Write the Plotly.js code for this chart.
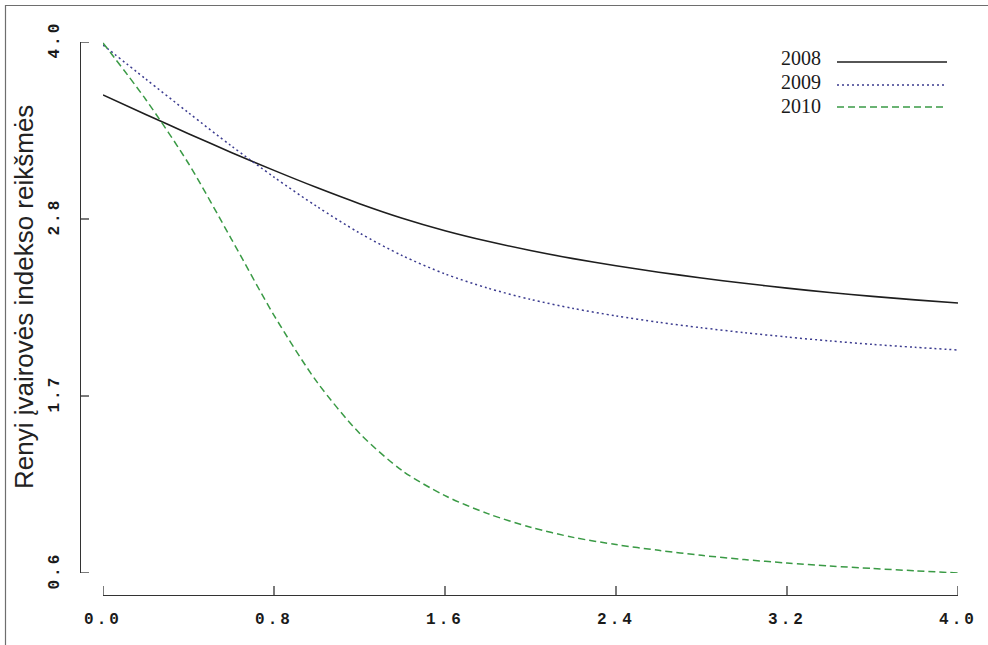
<!DOCTYPE html>
<html>
<head>
<meta charset="utf-8">
<script src="https://cdn.plot.ly/plotly-3.0.1.min.js"></script>
<style>
  html, body { margin: 0; padding: 0; background: #ffffff; }
  #chart { width: 988px; height: 645px; }
  .xtick text, .ytick text { letter-spacing: 3px; }
</style>
</head>
<body>
<div id="chart"></div>
<script>
// ---- data ----
const xValues = [0.0, 0.2, 0.4, 0.6, 0.8, 1.0, 1.2, 1.4, 1.6, 1.8, 2.0,
                 2.2, 2.4, 2.6, 2.8, 3.0, 3.2, 3.4, 3.6, 3.8, 4.0];

const series2008 = [3.661, 3.536, 3.413, 3.293, 3.178, 3.068, 2.965, 2.872, 2.792, 2.724, 2.665,
                    2.613, 2.567, 2.526, 2.489, 2.455, 2.424, 2.396, 2.371, 2.349, 2.329];

const series2009 = [3.981, 3.763, 3.547, 3.335, 3.135, 2.947, 2.777, 2.632, 2.515, 2.424, 2.352,
                    2.294, 2.246, 2.205, 2.170, 2.139, 2.111, 2.086, 2.064, 2.045, 2.028];

const series2010 = [3.994, 3.632, 3.222, 2.740, 2.250, 1.825, 1.495, 1.255, 1.095, 0.980, 0.893,
                    0.828, 0.782, 0.745, 0.713, 0.686, 0.664, 0.645, 0.629, 0.614, 0.600];

const seriesNames = ["2008", "2009", "2010"];

const xTickVals = [0.0, 0.8, 1.6, 2.4, 3.2, 4.0];
const xTickText = ["0.0", "0.8", "1.6", "2.4", "3.2", "4.0"];
const yTickVals = [0.6, 1.7333, 2.8667, 4.0];
const yTickText = ["0.6", "1.7", "2.8", "4.0"];

const yTitle = "Renyi įvairovės indekso reikšmės";

// ---- styles ----
const colors = ["#1e1e1e", "#3b3b8f", "#3a9a45"];
const dashes = ["solid", "2px,3px", "7px,4px"];
const widths = [1.6, 1.5, 1.5];
const seriesData = [series2008, series2009, series2010];

const traces = seriesData.map((ys, i) => ({
  type: "scatter",
  mode: "lines",
  x: xValues,
  y: ys,
  name: seriesNames[i],
  line: { color: colors[i], dash: dashes[i], width: widths[i], shape: "spline", smoothing: 0.8 },
  hoverinfo: "skip"
}));

// geometry (pixels -> paper) helpers
const L = 80, R = 30, T = 42, B = 50, W = 988, H = 645;
const pw = W - L - R, ph = H - T - B;
const px = v => (v - L) / pw;
const py = v => (H - B - v) / ph;
const axisColor = "#333333";
const tickLen = 9;

// custom legend: text on the left, line sample on the right
const legendTextY = [58, 82, 106];
const legendLineY = [62, 85, 107];
const annotations = seriesNames.map((n, i) => ({
  xref: "paper", yref: "paper",
  x: px(823), y: py(legendTextY[i]),
  xanchor: "right", yanchor: "middle",
  text: n, showarrow: false,
  font: { family: "Liberation Serif, Times New Roman, serif", size: 20, color: "#1a1a1a" }
}));
annotations.push({
  xref: "paper", yref: "paper",
  x: px(24), y: py(297),
  xanchor: "center", yanchor: "middle",
  text: yTitle, textangle: -90, showarrow: false,
  font: { family: "Liberation Sans, Arial, sans-serif", size: 26, color: "#222222" }
});

const shapes = seriesNames.map((n, i) => ({
  type: "line", xref: "paper", yref: "paper",
  x0: px(837), x1: px(947), y0: py(legendLineY[i]), y1: py(legendLineY[i]),
  line: { color: colors[i], dash: dashes[i], width: widths[i] }
}));
// tick marks pointing inward from the detached axis lines
xTickVals.forEach(v => shapes.push({
  type: "line", xref: "x", yref: "paper",
  x0: v, x1: v, y0: 0, y1: tickLen / ph,
  line: { color: axisColor, width: 1.3 }
}));
yTickVals.forEach(v => shapes.push({
  type: "line", xref: "paper", yref: "y",
  x0: 0, x1: tickLen / pw, y0: v, y1: v,
  line: { color: axisColor, width: 1.3 }
}));
// image frame (left and top gray border)
shapes.push({ type: "line", xref: "paper", yref: "paper",
  x0: px(5.5), x1: px(5.5), y0: py(5), y1: py(645),
  line: { color: "#6e6e6e", width: 1.2 } });
shapes.push({ type: "line", xref: "paper", yref: "paper",
  x0: px(5), x1: px(988), y0: py(5.5), y1: py(5.5),
  line: { color: "#6e6e6e", width: 1.2 } });

const tickFont = { family: "Liberation Mono, DejaVu Sans Mono, monospace", size: 16, color: "#1a1a1a", weight: "bold" };

const layout = {
  width: W, height: H,
  margin: { l: L, r: R, t: T, b: B, pad: 0 },
  paper_bgcolor: "#ffffff",
  plot_bgcolor: "#ffffff",
  showlegend: false,
  xaxis: {
    range: [0, 4],
    domain: [px(103), 1],
    anchor: "free", position: 0,
    tickvals: xTickVals, ticktext: xTickText,
    ticks: "",
    showline: true, linecolor: axisColor, linewidth: 1.3,
    showgrid: false, zeroline: false,
    tickfont: tickFont,
    ticklabelstandoff: 8
  },
  yaxis: {
    range: [0.6, 4.0],
    domain: [py(573), 1],
    anchor: "free", position: 0,
    tickvals: yTickVals, ticktext: yTickText,
    tickangle: -90,
    ticks: "",
    showline: true, linecolor: axisColor, linewidth: 1.3,
    showgrid: false, zeroline: false,
    tickfont: tickFont,
    ticklabelstandoff: 15
  },
  annotations: annotations,
  shapes: shapes
};

Plotly.newPlot("chart", traces, layout, { staticPlot: true, displayModeBar: false });
</script>
</body>
</html>
